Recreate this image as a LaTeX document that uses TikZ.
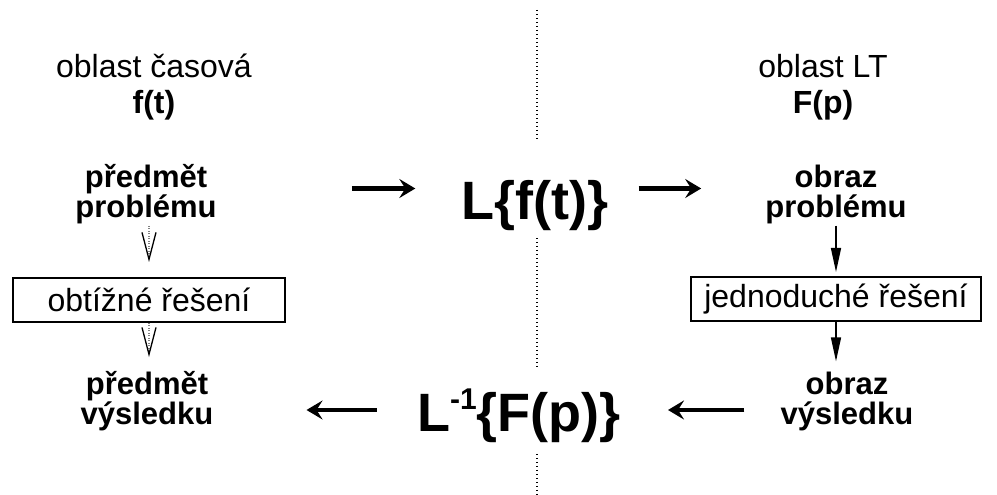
\documentclass[tikz,border=0pt]{standalone}
\usepackage{fontspec}
\setmainfont{Liberation Sans}
\usetikzlibrary{arrows.meta}

\begin{document}
\begin{tikzpicture}[x=1pt,y=1pt,
  lbl/.style={align=center,inner sep=2pt,font=\fontsize{32}{36}\selectfont},
  bld/.style={align=center,inner sep=2pt,font=\fontsize{31}{30}\selectfont\bfseries},
  solbox/.style={draw,line width=2pt,minimum height=44pt,inner sep=0pt,font=\fontsize{32}{36}\selectfont},
  formula/.style={fill=white,inner sep=0pt,anchor=base,font=\fontsize{54}{60}\selectfont\bfseries},
  bigarrow/.style={line width=4.5pt,-{Stealth[length=16pt,width=19pt,inset=6pt]}},
  hardarrow/.style={line width=1.2pt,draw=gray,dash pattern=on 1pt off 1.5pt,
    -{Straight Barb[length=27pt,width=14pt,line width=1.3pt,color=black]}},
  easyarrow/.style={line width=1.5pt,-{Triangle[length=24pt,width=10pt]}}]
\useasboundingbox (0,0) rectangle (997,495);
% divider between the two domains
\draw[line width=1.2pt,dash pattern=on 1.2pt off 2.8pt] (537,485) -- (537,0);
\node[lbl] (ct) at (154,408) {oblast časová\\\textbf{f(t)}};
\node[lbl] (lt) at (823,408) {oblast LT\\\textbf{F(p)}};
\node[bld] (pp) at (146,301) {předmět\\problému};
\node[bld] (op) at (836,301) {obraz\\problému};
\node[solbox,minimum width=272pt] (ob) at (149,195) {obtížné řešení};
\node[solbox,minimum width=290pt] (jr) at (836,196) {jednoduché řešení};
\node[bld] (pv) at (147,94) {předmět\\výsledku};
\node[bld] (ov) at (847,94) {obraz\\výsledku};
\node[formula,text height=80pt,text depth=17pt] (lf) at (535,275) {L\{f(t)\}};
\node[formula,text height=64pt,text depth=20pt] (li) at (519,63)
  {L\raisebox{0.42em}{\fontsize{30}{30}\selectfont -1}\{F(p)\}};
% transform and back
\draw[bigarrow,shorten <=133pt,shorten >=46pt] (pp.east |- lf.west) -- (lf.west);
\draw[bigarrow,shorten <=30pt,shorten >=62pt] (lf.east) -- (lf.east -| op.west);
\draw[bigarrow,shorten <=34pt,shorten >=47pt] (ov.west |- li.east) -- (li.east);
\draw[bigarrow,shorten <=40pt,shorten >=91pt] (li.west) -- (li.west -| pv.east);
% solving
\draw[hardarrow,shorten >=15pt] (ob.north |- pp.south) -- (ob.north);
\draw[hardarrow,shorten >=12pt] (ob.south) -- (ob.south |- pv.north);
\draw[easyarrow,shorten >=4pt] (op.south -| jr.north) -- (jr.north);
\draw[easyarrow,shorten >=8pt] (jr.south) -- (jr.south |- ov.north);
\end{tikzpicture}
\end{document}
